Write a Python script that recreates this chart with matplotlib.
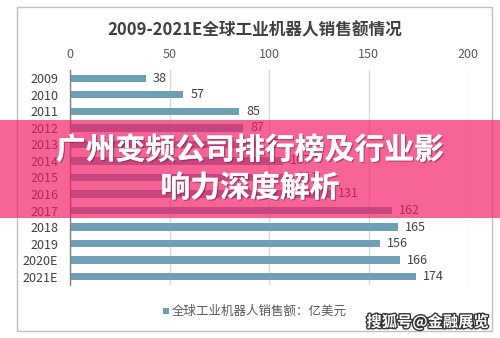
import matplotlib
matplotlib.use("Agg")
import matplotlib.pyplot as plt
from matplotlib.patches import Rectangle
import matplotlib.patheffects as pe

plt.rcParams['font.family'] = ['Noto Sans CJK SC', 'DejaVu Sans']

# data
years = ['2009', '2010', '2011', '2012', '2013', '2014', '2015',
         '2016', '2017', '2018', '2019', '2020E', '2021E']
sales = [38, 57, 85, 87, 95, 107, 111, 131, 162, 165, 156, 166, 174]
x_ticks = [0, 50, 100, 150, 200]

title = '2009-2021E全球工业机器人销售额情况'
legend_label = '全球工业机器人销售额：亿美元'
banner_lines = ['广州变频公司排行榜及行业影', '响力深度解析']
watermark = '搜狐号@金融展览'

bar_color = '#6F9FB5'
text_color = '#404040'

fig = plt.figure(figsize=(5.0, 3.38), dpi=100)
fig.patch.set_facecolor('white')

# outer chart frame
fig.add_artist(Rectangle((0.034, 0.021), 0.95, 0.958, transform=fig.transFigure,
                         facecolor='white', edgecolor='#BFBFBF', linewidth=1.0, zorder=0))

ax = fig.add_axes([0.14, 0.157, 0.796, 0.636])
ax.set_facecolor('none')
pos = list(range(len(years)))
ax.barh(pos, sales, height=0.45, color=bar_color, zorder=3)
for p, v in zip(pos, sales):
    ax.text(v + 3.5, p, str(v), va='center', ha='left', fontsize=9, color=text_color)

ax.set_xlim(0, 200)
ax.set_ylim(12.5, -0.5)
ax.set_xticks(x_ticks)
ax.xaxis.tick_top()
ax.tick_params(axis='x', length=0, pad=6.5, labelsize=9, labelcolor='#595959')
ax.set_yticks(pos)
ax.set_yticklabels(years)
ax.tick_params(axis='y', length=0, pad=8.5, labelsize=9, labelcolor=text_color)
ax.grid(axis='x', color='#D9D9D9', linewidth=1.0, zorder=0)
for s in ['top', 'right', 'bottom']:
    ax.spines[s].set_visible(False)
ax.spines['left'].set_color('#808080')
ax.spines['left'].set_linewidth(1.0)
ax.spines['left'].set_zorder(4)

fig.text(0.51, 0.911, title, ha='center', va='center', fontsize=12,
         fontweight='bold', color='#404040')

# legend
fig.add_artist(Rectangle((0.326, 0.071), 0.012, 0.018, transform=fig.transFigure,
                         facecolor=bar_color, edgecolor='none'))
fig.text(0.344, 0.080, legend_label, ha='left', va='center', fontsize=9, color='#595959')

# watermark
fig.text(0.855, 0.047, watermark, ha='center', va='center', fontsize=11,
         fontweight='bold', color='white',
         path_effects=[pe.withStroke(linewidth=2, foreground='#333333')])

# pink banner overlay
fig.add_artist(Rectangle((0, 0.355), 1, 0.29, transform=fig.transFigure,
                         facecolor='#F31A64', alpha=0.68, edgecolor='none', zorder=10))
for y, line in zip([0.556, 0.444], banner_lines):
    fig.text(0.5, y, line, ha='center', va='center', fontsize=21.5, fontweight='heavy',
             color='white', zorder=11,
             path_effects=[pe.withSimplePatchShadow(offset=(1, -1), shadow_rgbFace='#7a2040', alpha=0.5),
                           pe.Normal()])

fig.savefig('out.png', dpi=100)
